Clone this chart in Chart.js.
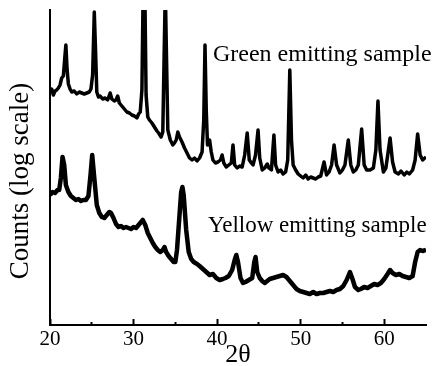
<!DOCTYPE html>
<html>
<head>
<meta charset="utf-8">
<script src="https://cdn.jsdelivr.net/npm/chart.js@4"></script>
<style>
html, body { margin: 0; padding: 0; background: #fff; }
</style>
</head>
<body>
<canvas id="xrd" width="441" height="366"></canvas>
<script>
// 2theta positions and counts (arbitrary log units)
var greenTheta = [20.0,20.2,20.4,20.6,20.8,21.0,21.2,21.4,21.6,21.75,21.9,22.05,22.2,22.4,22.6,22.9,23.2,23.5,23.8,24.1,24.4,24.7,24.9,25.1,25.3,25.45,25.6,25.8,26.0,26.3,26.6,26.9,27.2,27.4,27.7,27.9,28.1,28.3,28.6,28.9,29.2,29.5,29.8,30.1,30.4,30.6,30.8,31.0,31.15,31.35,31.5,31.7,31.9,32.2,32.5,32.8,33.0,33.3,33.5,33.65,33.8,33.95,34.1,34.4,34.7,34.9,35.1,35.3,35.5,35.8,36.1,36.4,36.7,37.0,37.3,37.6,37.9,38.2,38.4,38.55,38.7,38.85,39.1,39.3,39.5,39.8,40.1,40.4,40.6,40.8,41.1,41.4,41.7,41.9,42.1,42.4,42.7,43.0,43.3,43.6,43.85,44.1,44.3,44.6,44.9,45.1,45.4,45.7,46.0,46.2,46.5,46.8,47.0,47.3,47.6,47.9,48.2,48.45,48.7,48.9,49.1,49.4,49.7,50.0,50.3,50.6,50.9,51.2,51.5,51.8,52.1,52.4,52.8,53.1,53.4,53.7,54.0,54.3,54.7,55.0,55.3,55.7,56.0,56.3,56.6,56.9,57.3,57.6,57.9,58.3,58.7,59.0,59.25,59.5,59.9,60.2,60.5,60.7,61.0,61.3,61.7,62.0,62.4,62.7,63.0,63.4,63.7,64.0,64.3,64.6,65.0];
var greenCounts = [232,236,230,234,235,237,240,247,249,265,280,255,241,236,233,234,231,233,232,231,232,233,236,250,313,275,233,228,229,226,227,225,232,226,224,225,229,222,219,216,213,212,210,209,207,211,213,235,335,335,230,208,205,202,198,194,192,188,193,265,335,265,195,185,180,182,185,193,188,183,177,172,167,165,167,164,167,173,205,280,215,180,185,173,165,162,163,165,170,162,158,160,162,180,160,157,159,158,170,192,165,162,160,170,195,167,155,157,161,157,155,190,160,153,155,151,153,165,255,185,160,155,151,149,147,150,146,148,147,146,148,149,163,150,153,160,180,160,152,155,160,185,160,153,155,160,196,160,155,155,157,175,224,175,153,157,175,187,163,153,151,154,150,153,151,155,165,191,170,165,168];

var yellowTheta = [20.0,20.3,20.6,20.9,21.1,21.3,21.5,21.7,21.9,22.2,22.5,22.8,23.1,23.4,23.7,24.0,24.3,24.6,24.85,25.05,25.3,25.6,25.9,26.2,26.5,26.8,27.1,27.3,27.6,27.9,28.2,28.5,28.8,29.1,29.4,29.7,30.0,30.3,30.6,30.9,31.1,31.4,31.7,32.0,32.3,32.6,32.9,33.2,33.5,33.7,33.9,34.2,34.5,34.8,35.0,35.2,35.5,35.7,35.85,36.0,36.3,36.6,36.9,37.2,37.6,37.9,38.3,38.7,39.1,39.5,39.9,40.3,40.7,41.0,41.4,41.8,42.1,42.3,42.5,42.8,43.1,43.4,43.8,44.2,44.45,44.6,44.8,45.1,45.4,45.7,46.0,46.3,46.7,47.1,47.5,47.9,48.3,48.7,49.1,49.5,49.9,50.3,50.7,51.1,51.5,51.9,52.3,52.7,53.1,53.5,53.9,54.3,54.7,55.1,55.5,55.9,56.2,56.5,56.9,57.2,57.6,58.0,58.4,58.8,59.2,59.6,60.0,60.4,60.7,61.0,61.4,61.8,62.2,62.6,63.0,63.4,63.7,64.0,64.3,64.6,65.0];
var yellowCounts = [130,133,132,135,135,147,168,160,140,133,129,127,125,126,124,125,125,129,150,170,147,120,112,108,107,110,113,112,107,101,98,99,97,98,97,96,98,97,100,103,105,100,92,87,82,78,75,73,75,78,73,69,66,63,63,75,110,133,138,130,95,73,66,63,61,59,56,53,50,51,47,45,46,47,49,55,65,70,63,47,42,43,45,47,63,68,53,47,44,42,44,46,47,48,49,50,48,44,40,36,34,33,32,31,33,31,32,32,33,34,33,35,36,39,45,53,46,38,35,36,38,37,39,41,40,42,46,51,55,52,50,51,49,48,47,49,63,73,75,74,75];

var xTickLabels = ['20', '30', '40', '50', '60'];
var xTitle = '2\u03b8';
var yTitle = 'Counts (log scale)';
var greenLabel = 'Green emitting sample';
var yellowLabel = 'Yellow emitting sample';

var serif = "'Liberation Serif', 'Times New Roman', serif";

function toPoints(xs, ys) {
    return xs.map(function (v, i) { return { x: v, y: ys[i] }; });
}

// sample names and the rotated y title
var textPlugin = {
    id: 'textPlugin',
    afterDraw: function (chart) {
        var ctx = chart.ctx;
        var xs = chart.scales.x, ys = chart.scales.y;
        ctx.save();
        ctx.fillStyle = '#000';
        ctx.textAlign = 'left';
        ctx.textBaseline = 'alphabetic';
        ctx.font = '24px ' + serif;
        ctx.fillText(greenLabel, xs.getPixelForValue(39.5), ys.getPixelForValue(264));
        ctx.font = '23px ' + serif;
        ctx.fillText(yellowLabel, xs.getPixelForValue(38.9), ys.getPixelForValue(93));
        ctx.font = '27px ' + serif;
        ctx.translate(28, 181);
        ctx.rotate(-Math.PI / 2);
        ctx.textAlign = 'center';
        ctx.fillText(yTitle, 0, 0);
        ctx.restore();
    }
};

new Chart(document.getElementById('xrd'), {
    type: 'line',
    data: {
        datasets: [
            { label: greenLabel, data: toPoints(greenTheta, greenCounts), borderColor: '#000', borderWidth: 3.5, borderJoinStyle: 'round', pointRadius: 0, tension: 0 },
            { label: yellowLabel, data: toPoints(yellowTheta, yellowCounts), borderColor: '#000', borderWidth: 4.5, borderJoinStyle: 'round', pointRadius: 0, tension: 0 }
        ]
    },
    options: {
        responsive: false,
        animation: false,
        layout: { padding: { top: 10, right: 15, left: 0, bottom: 0 } },
        plugins: { legend: { display: false }, tooltip: { enabled: false } },
        scales: {
            x: {
                type: 'linear', min: 20, max: 65, position: 'bottom', weight: 1,
                ticks: {
                    stepSize: 10, includeBounds: false, padding: 8, color: '#000', maxRotation: 0, autoSkip: false,
                    font: { family: serif, size: 21 },
                    callback: function (v) { return xTickLabels[(v - 20) / 10]; }
                },
                grid: { drawOnChartArea: false, tickLength: -6, tickWidth: 2, tickColor: '#000' },
                border: { color: '#000', width: 2 },
                title: { display: true, text: xTitle, color: '#000', padding: 0, font: { family: serif, size: 26, lineHeight: 0.85 } },
                afterFit: function (s) { s.height = 41; }
            },
            x2: {
                type: 'linear', min: 20, max: 65, position: 'bottom', weight: 0,
                ticks: { stepSize: 5, display: false },
                grid: {
                    drawOnChartArea: false, tickLength: -3, tickWidth: 2,
                    tickColor: function (c) { return (c.tick && c.tick.value % 10 === 5 && c.tick.value < 65) ? '#000' : 'rgba(0,0,0,0)'; }
                },
                border: { display: false },
                afterFit: function (s) { s.height = 0; }
            },
            y: {
                type: 'linear', min: 0, max: 315,
                ticks: { display: false },
                grid: { drawOnChartArea: false, drawTicks: false },
                border: { color: '#000', width: 2 },
                afterFit: function (s) { s.width = 50; }
            }
        }
    },
    plugins: [textPlugin]
});
</script>
</body>
</html>
